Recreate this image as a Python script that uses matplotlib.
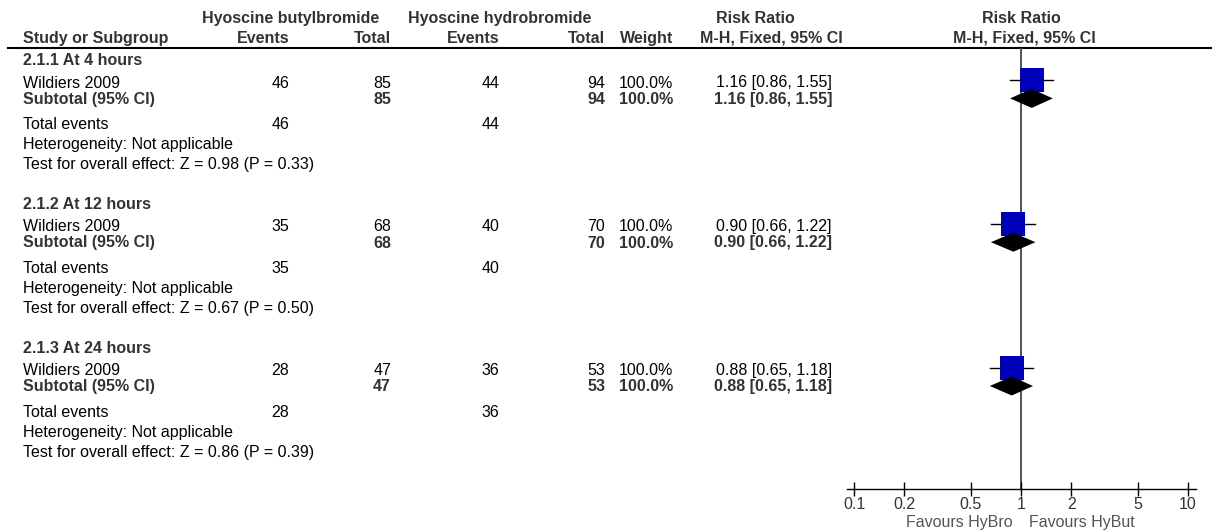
import matplotlib
matplotlib.use("Agg")
import matplotlib.pyplot as plt

# données
groups = ["2.1.1 At 4 hours", "2.1.2 At 12 hours", "2.1.3 At 24 hours"]
study = "Wildiers 2009"
but_events = [46, 35, 28]
but_total = [85, 68, 47]
bro_events = [44, 40, 36]
bro_total = [94, 70, 53]
weights = [100.0, 100.0, 100.0]
rr = [1.16, 0.90, 0.88]
rr_lo = [0.86, 0.66, 0.65]
rr_hi = [1.55, 1.22, 1.18]
z_vals = [0.98, 0.67, 0.86]
p_vals = [0.33, 0.50, 0.39]
tick_vals = [0.1, 0.2, 0.5, 1, 2, 5, 10]
tick_labels = ["0.1", "0.2", "0.5", "1", "2", "5", "10"]

plt.rcParams["font.family"] = ["Liberation Sans", "DejaVu Sans"]
FS = 11.5
W, H = 1213, 530

fig = plt.figure(figsize=(W / 100, H / 100), dpi=100)
ax = fig.add_axes([0, 0, 1, 1])
ax.set_xlim(0, W)
ax.set_ylim(H, 0)
ax.axis("off")

BOLD_C = "#333333"


def txt(x, y, s, ha="left", bold=False, color=None):
    if color is None:
        color = BOLD_C if bold else "black"
    ax.text(x, y, s, ha=ha, va="baseline", fontsize=FS,
            fontweight="bold" if bold else "normal", color=color)


# en-têtes
txt(291, 23.3, "Hyoscine butylbromide", ha="center", bold=True)
txt(500, 23.3, "Hyoscine hydrobromide", ha="center", bold=True)
txt(755, 23.3, "Risk Ratio", ha="center", bold=True)
txt(1021, 23.3, "Risk Ratio", ha="center", bold=True)
txt(22.7, 42.7, "Study or Subgroup", bold=True)
txt(289.5, 42.7, "Events", ha="right", bold=True)
txt(391, 42.7, "Total", ha="right", bold=True)
txt(499.5, 42.7, "Events", ha="right", bold=True)
txt(605, 42.7, "Total", ha="right", bold=True)
txt(673, 42.7, "Weight", ha="right", bold=True)
txt(771, 42.7, "M-H, Fixed, 95% CI", ha="center", bold=True)
txt(1024, 42.7, "M-H, Fixed, 95% CI", ha="center", bold=True)
ax.plot([8, 1211], [47.7, 47.7], color="black", lw=1.5)

# axe du forest plot (échelle log)
x_left, x_right = 846.7, 1195.7
x01, x10 = 854.0, 1188.0
dec = (x10 - x01) / 2
y_top, y_axis = 47.7, 489.0
fax = fig.add_axes([x_left / W, (H - y_axis) / H,
                    (x_right - x_left) / W, (y_axis - y_top) / H])
fax.set_xscale("log")
fax.set_xlim(10 ** (-1 - (x01 - x_left) / dec), 10 ** (1 + (x_right - x10) / dec))
fax.set_ylim(y_axis, y_top)
fax.patch.set_alpha(0)
for s in ["top", "left", "right"]:
    fax.spines[s].set_visible(False)
fax.spines["bottom"].set_linewidth(1.0)
fax.set_yticks([])
fax.set_xticks(tick_vals)
fax.set_xticklabels(tick_labels)
fax.minorticks_off()
fax.tick_params(axis="x", direction="inout", length=10, width=1,
                pad=1, labelsize=FS, labelcolor="#333333")
fax.axvline(1, color="#444444", lw=1.3, zorder=1)

txt(1013, 526.7, "Favours HyBro", ha="right", color="#555555")
txt(1029, 526.7, "Favours HyBut", ha="left", color="#555555")

# lignes des sous-groupes
GAP = 143.8
for i, g in enumerate(groups):
    y0 = 65 + i * GAP
    y_study = y0 + 22.5
    y_sub = y_study + 16.2
    y_tot = y_sub + 25.7
    txt(22.7, y0, g, bold=True)

    txt(22.7, y_study, study)
    txt(289.5, y_study, str(but_events[i]), ha="right")
    txt(391, y_study, str(but_total[i]), ha="right")
    txt(499.5, y_study, str(bro_events[i]), ha="right")
    txt(605, y_study, str(bro_total[i]), ha="right")
    txt(673, y_study, f"{weights[i]:.1f}%", ha="right")
    txt(832, y_study, f"{rr[i]:.2f} [{rr_lo[i]:.2f}, {rr_hi[i]:.2f}]", ha="right")

    txt(22.7, y_sub, "Subtotal (95% CI)", bold=True)
    txt(391, y_sub, str(but_total[i]), ha="right", bold=True)
    txt(605, y_sub, str(bro_total[i]), ha="right", bold=True)
    txt(673, y_sub, f"{weights[i]:.1f}%", ha="right", bold=True)
    txt(832, y_sub, f"{rr[i]:.2f} [{rr_lo[i]:.2f}, {rr_hi[i]:.2f}]", ha="right", bold=True)

    txt(22.7, y_tot, "Total events")
    txt(289.5, y_tot, str(but_events[i]), ha="right")
    txt(499.5, y_tot, str(bro_events[i]), ha="right")
    txt(22.7, y_tot + 20, "Heterogeneity: Not applicable")
    txt(22.7, y_tot + 40, f"Test for overall effect: Z = {z_vals[i]:.2f} (P = {p_vals[i]:.2f})")

    # étude : carré + IC
    yc = y_study - 7.5
    fax.plot([rr_lo[i], rr_hi[i]], [yc, yc], color="black", lw=1.0, zorder=2)
    fax.plot([rr[i]], [yc], marker="s", markersize=17.6, color="#0000BB",
             mew=0, zorder=3)
    # sous-total : losange
    yd = y_sub - 5.3
    hh = 9.5
    fax.fill([rr_lo[i], rr[i], rr_hi[i], rr[i]], [yd, yd - hh, yd, yd + hh],
             color="black", lw=0, zorder=4)

fig.savefig("out.png", dpi=100)
